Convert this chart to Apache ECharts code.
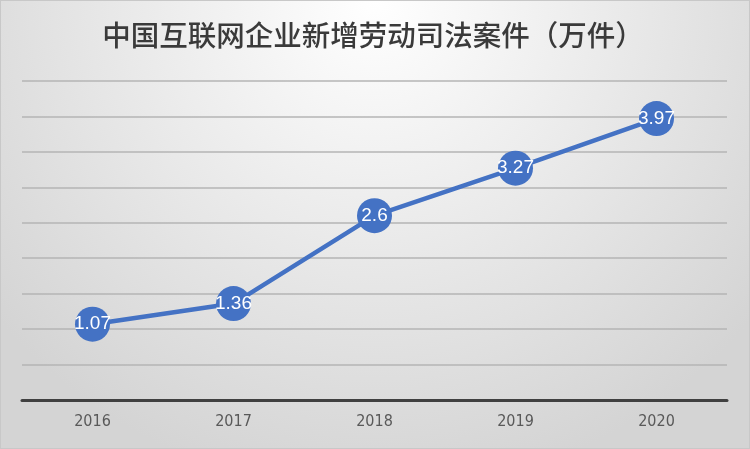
<!DOCTYPE html>
<html><head><meta charset="utf-8">
<script src="https://cdn.jsdelivr.net/npm/echarts@6/dist/echarts.min.js"></script>
<style>html,body{margin:0;padding:0;}#c{width:750px;height:449px;}</style>
</head><body><div id="c"></div>
<script>
const titleText = '中国互联网企业新增劳动司法案件（万件）';
const categories = ['2016', '2017', '2018', '2019', '2020'];
const values = [1.07, 1.36, 2.6, 3.27, 3.97];

const chart = echarts.init(document.getElementById('c'));
chart.setOption({
  backgroundColor: {
    type: 'radial', x: 0.5, y: 0.0, r: 1.1,
    colorStops: [{offset: 0, color: '#ffffff'}, {offset: 1, color: '#d4d4d4'}]
  },
  title: {
    text: titleText, left: 368, top: 16, textAlign: 'center',
    textStyle: {fontSize: 28.5, fontWeight: 500, color: '#3a3a3a', fontFamily: 'Noto Sans CJK SC'}
  },
  grid: {left: 22, right: 23, top: 81, bottom: 49},
  xAxis: {
    type: 'category', data: categories, boundaryGap: true,
    axisLine: {lineStyle: {color: '#404040', width: 3}},
    axisTick: {show: false},
    axisLabel: {color: '#595959', fontSize: 16, margin: 14, fontFamily: 'Liberation Sans Narrow, DejaVu Sans Condensed, sans-serif'}
  },
  yAxis: {
    type: 'value', min: 0, max: 4.5, interval: 0.5,
    axisLabel: {show: false}, axisLine: {show: false}, axisTick: {show: false},
    splitLine: {lineStyle: {color: '#b4b4b4', width: 1.5}}
  },
  series: [{
    type: 'line', data: values, symbol: 'circle', symbolSize: 35,
    itemStyle: {color: '#4472C4'},
    lineStyle: {color: '#4472C4', width: 4.5},
    label: {show: true, position: 'inside', color: '#ffffff', fontSize: 19, fontFamily: 'Liberation Sans, Arial, sans-serif'},
    animation: false
  }],
  animation: false
});
</script>
<div style="position:absolute;left:0;top:0;width:748px;height:447px;border:1px solid #c8c8c8;pointer-events:none;"></div>
</body></html>
